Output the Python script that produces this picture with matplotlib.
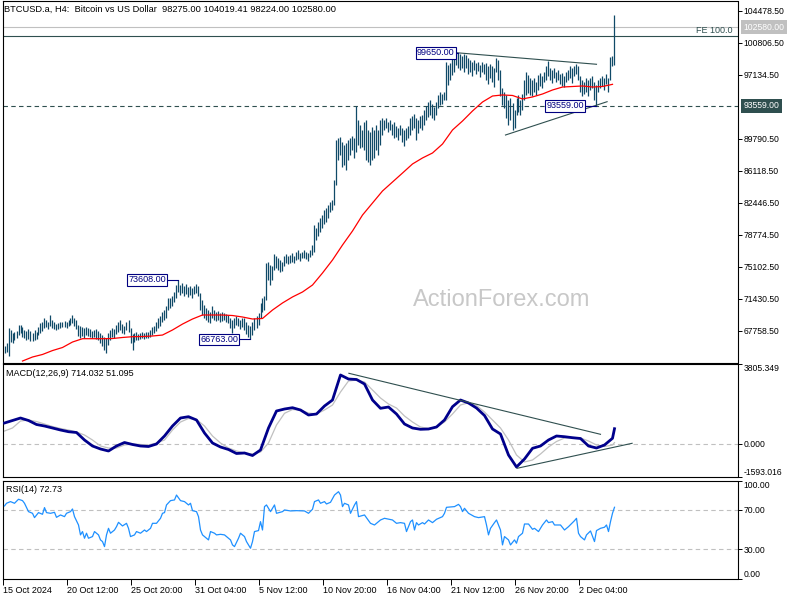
import numpy as np
import matplotlib
matplotlib.use("Agg")
import matplotlib.pyplot as plt
from matplotlib.transforms import blended_transform_factory

plt.rcParams['font.family'] = ['Liberation Sans', 'DejaVu Sans']

# ---------------- data ----------------
title = "BTCUSD.a, H4:  Bitcoin vs US Dollar  98275.00 104019.41 98224.00 102580.00"

# H4 bar highs / lows (thousands USD), bar 0 = 15 Oct 2024 04:00
highs_k = [
 66.0,66.3,68.1,67.8,67.5,67.6,67.7,68.4,68.4,68.2, 67.8,67.7,67.9,67.7,67.5,67.8,67.6,68.2,68.6,68.8,
 69.2,69.0,68.8,69.6,69.0,68.8,68.5,68.6,68.8,68.8, 68.9,68.8,69.0,69.2,69.6,69.2,69.0,68.4,68.3,68.2,
 68.1,68.2,68.1,67.9,67.7,67.8,67.9,67.7,67.5,67.3, 67.0,66.9,67.5,67.8,68.1,67.9,68.4,68.8,69.0,68.5,
 68.3,68.8,69.0,68.1,67.4,67.5,67.6,67.4,67.5,67.6, 67.5,67.6,67.6,67.8,68.2,68.3,68.8,69.2,69.4,69.9,
 70.1,70.6,71.5,71.5,71.7,72.2,73.0,73.608,73.0,73.2, 72.9,73.1,72.8,72.9,72.7,72.9,73.1,72.9,72.1,71.3,
 70.7,70.4,70.1,69.9,70.6,70.1,69.9,70.0,69.8,69.9, 69.8,69.7,69.6,69.2,69.0,69.2,69.4,69.2,69.0,69.2,
 69.2,68.8,68.4,68.3,68.8,69.2,69.4,69.8,70.9,71.5, 71.7,75.5,75.6,75.3,75.2,76.6,76.3,76.1,75.9,75.6,
 76.3,76.6,76.3,76.4,76.7,76.3,76.8,77.0,76.7,76.8, 77.0,76.8,76.7,77.0,77.6,79.9,79.6,80.2,80.7,81.0,
 81.6,81.8,82.2,82.5,82.8,85.1,89.6,89.9,90.0,89.4, 89.1,89.3,89.6,89.9,90.1,89.9,93.5,91.9,91.4,90.8,
 91.7,91.9,90.8,90.6,91.1,90.8,91.4,90.8,91.9,92.2, 91.9,92.2,91.7,91.9,91.5,91.7,91.2,91.0,91.4,91.0,
 90.8,91.0,91.2,92.2,92.4,92.6,92.2,91.9,92.4,92.5, 93.1,93.5,94.0,94.2,93.8,93.4,94.0,94.8,95.1,94.9,
 95.1,98.6,98.2,98.5,99.0,99.4,99.6,99.65,99.5,99.3, 99.5,99.4,99.0,98.8,98.6,98.8,98.5,98.6,98.2,98.6,
 98.4,98.5,98.1,98.4,98.1,97.9,99.0,98.8,97.7,95.6, 95.1,94.8,94.2,94.5,93.9,93.1,94.5,94.8,94.2,94.9,
 96.5,97.4,97.1,96.8,96.5,96.8,96.3,97.1,97.3,97.0, 97.4,98.1,98.7,97.9,97.7,97.9,97.4,97.7,97.2,97.3,
 97.0,97.4,97.7,98.1,97.9,98.1,98.4,98.1,97.0,96.5, 96.3,96.8,96.5,96.8,97.0,96.3,96.0,96.5,96.8,97.0,
 96.8,97.2,96.8,99.2,99.3,104.019]
lows_k = [
 65.2,65.3,64.9,66.5,66.4,66.7,66.9,67.3,67.5,67.0, 66.9,66.7,66.8,66.6,66.6,66.7,66.8,67.3,67.5,67.7,
 68.1,68.2,68.0,68.3,68.1,68.0,67.8,68.0,68.1,68.2, 68.2,68.1,68.3,68.4,68.6,68.3,68.0,67.1,66.9,67.1,
 66.9,67.3,67.1,67.0,66.9,67.0,66.8,66.7,66.3,66.0, 65.5,65.2,66.1,66.7,67.0,66.9,67.4,67.6,67.8,67.5,
 67.4,67.8,67.6,66.3,65.5,66.5,66.7,66.7,66.8,66.9, 66.8,66.9,66.9,67.0,67.3,67.5,67.7,68.1,68.3,68.8,
 69.0,69.2,70.1,70.4,70.6,71.1,71.5,72.2,71.9,72.1, 71.7,72.0,71.6,71.9,71.5,72.0,72.1,71.7,70.1,69.6,
 69.2,69.0,68.8,68.6,69.2,69.0,68.9,69.0,68.8,68.9, 69.0,68.8,68.6,68.1,67.5,68.1,68.4,68.3,67.9,68.2,
 67.8,67.4,67.0,66.763,67.3,67.8,68.1,68.4,69.2,69.9, 70.1,71.3,73.6,73.0,73.6,74.7,74.9,74.7,74.5,74.6,
 75.2,75.5,75.4,75.5,75.6,75.5,75.9,76.0,75.7,76.1, 76.1,76.0,75.7,76.2,76.4,76.8,78.2,78.6,79.1,79.6,
 80.0,80.2,80.7,81.4,81.6,82.2,84.5,87.4,87.9,86.5, 86.8,86.2,87.35,87.9,88.5,87.6,88.3,89.1,88.7,88.8,
 88.5,87.35,87.1,86.8,87.35,87.6,88.5,87.9,89.1,90.2, 90.8,91.0,90.6,90.8,90.2,89.9,90.0,89.6,90.2,89.4,
 88.9,89.6,89.9,90.2,90.8,91.0,89.6,90.4,91.0,90.8, 91.4,91.9,92.3,92.5,92.2,91.9,92.5,93.3,93.7,93.8,
 94.2,94.2,96.0,96.5,97.1,97.4,98.2,97.9,97.7,97.9, 97.4,97.9,97.2,97.4,97.0,97.7,97.2,97.6,96.9,97.4,
 97.2,96.5,96.1,96.8,96.3,95.7,97.4,96.5,94.7,93.7, 93.3,92.2,91.4,91.9,90.8,91.0,92.5,92.9,92.5,93.1,
 94.2,94.8,95.0,94.8,94.7,95.1,94.8,95.4,95.8,95.6, 96.3,96.5,97.0,96.5,96.2,96.8,96.3,96.5,96.1,95.8,
 95.7,96.3,96.5,96.8,96.2,97.0,97.2,96.5,95.1,94.7, 94.9,95.1,94.7,95.4,95.6,94.2,93.559,95.1,95.6,95.8,
 95.4,96.1,95.1,96.5,98.1,98.224]

# moving average (thousands USD), every 5 bars from bar 9
ma_idx = list(range(9, 305, 5))
ma_k = [64.28,64.74,65.03,65.48,65.83,66.46,66.84,66.84,66.84,66.86,
        66.98,67.07,67.09,67.15,67.26,67.84,68.52,69.10,69.56,69.56,
        69.56,69.50,69.33,69.10,69.16,70.13,70.94,71.63,72.20,73.00,
        74.38,75.87,77.59,79.20,81.03,82.41,83.79,84.82,85.85,86.89,
        87.58,88.15,89.18,90.79,91.82,92.97,94.00,94.69,94.81,94.75,
        94.35,94.58,94.92,95.38,95.72,95.78,95.84,95.72,95.78,96.03]

# MACD(12,26,9): main & signal, every 4 bars + last bar
macd_idx = list(range(0, 305, 4)) + [305]
macd_main = [987,1106,1225,1106,915,843,748,652,571,533,
             174,-112,-255,-351,-112,55,-40,-112,-136,-17,
             366,843,1225,1288,1130,509,31,-160,-279,-470,
             -446,-566,-303,748,1560,1655,1717,1608,1369,1417,
             1799,2085,3280,3088,3065,2850,2085,1689,1751,1416,
             939,748,686,700,795,1130,1765,2085,1942,1703,
             1345,700,461,-542,-1115,-733,-222,-112,174,366,
             332,284,246,-112,-208,-64,256,714.032]
macd_signal = [604,748,1082,1130,1058,939,819,724,652,557,
               413,174,-112,-208,-208,-64,-17,-40,-64,31,
               174,652,1034,1202,1154,843,366,31,-208,-351,
               -446,-494,-399,31,891,1450,1631,1608,1464,1417,
               1608,1846,2467,2993,3041,2945,2563,2181,1894,1703,
               1321,1034,795,724,795,1034,1417,1846,1956,1823,
               1512,1130,748,174,-542,-876,-781,-494,-160,103,
               270,294,270,127,-64,-136,-64,51.095]

# RSI(14)
rsi_idx = [0,1,3,5,7,9,10,12,14,15,17,19,20,21,23,25,26,28,30,31,33,34,35,37,38,39,40,41,42,44,
           45,47,48,49,50,51,52,53,55,56,57,59,61,62,63,65,66,68,70,71,73,74,76,78,79,80,81,83,85,86,
           88,90,92,93,94,96,97,98,99,100,102,103,105,106,108,110,113,114,115,117,118,120,121,123,124,125,127,128,129,130,
           131,133,135,136,139,140,143,146,150,152,154,155,157,158,160,161,163,165,167,168,169,170,172,173,175,176,177,180,183,185,
           188,190,194,196,198,200,201,203,204,205,206,207,209,210,212,214,216,219,220,221,225,227,228,229,230,232,235,237,240,241,
           242,243,245,246,248,249,250,252,253,255,256,257,259,260,262,264,265,267,269,271,272,274,275,278,280,282,285,286,287,288,
           290,291,293,295,296,298,300,301,302,303,304,305]
rsi_val = [74.1,76.8,78.5,76.8,80.9,79.5,76.8,68.3,66.6,62.2,67.3,65.6,72.4,67.3,66.6,67.6,62.5,64.9,63.2,66.6,68.3,71.0,63.2,54.7,44.6,48.0,41.2,46.3,41.2,42.9,
           48.0,44.6,39.5,37.8,32.7,44.6,51.3,46.3,49.6,53.0,57.4,53.7,56.4,51.3,42.9,44.6,48.0,46.3,49.6,48.0,51.3,56.4,56.4,61.5,66.6,67.3,75.1,79.5,80.2,85.2,
           79.5,78.5,75.1,76.8,69.3,68.3,63.2,49.6,44.6,42.9,39.5,48.0,46.3,44.6,45.2,44.6,39.5,34.4,32.7,41.2,46.3,42.9,37.8,31.0,37.8,48.0,49.0,58.1,49.6,73.4,
           75.1,68.3,75.1,66.6,68.3,70.0,69.0,69.3,69.0,66.6,70.7,78.5,80.2,76.8,78.5,76.1,77.8,85.2,88.6,85.2,73.4,76.8,75.1,66.6,75.1,78.5,63.2,64.9,56.4,54.7,
           59.8,61.5,59.8,56.4,57.1,56.4,48.0,58.1,59.8,49.6,57.1,54.7,57.1,55.7,59.8,57.1,60.5,63.2,66.6,72.7,73.4,75.7,73.4,68.3,71.7,66.6,63.2,62.2,63.2,54.7,
           44.6,51.3,57.1,59.8,49.6,34.4,42.9,39.5,34.4,39.5,36.1,42.9,46.3,55.7,55.7,50.3,51.3,48.0,54.7,59.8,57.1,58.1,54.7,54.7,49.6,53.0,59.1,61.5,46.3,42.9,
           39.5,44.6,48.6,37.8,49.0,51.3,52.4,54.7,48.0,58.1,66.6,72.73]

price_ticks = [104478.5, 100806.5, 97134.5, 89790.5, 86118.5, 82446.5, 78774.5, 75102.5, 71430.5, 67758.5]
support_level = 93559.0
current_price = 102580.0
fe_level = 101570.0
date_labels = ["15 Oct 2024", "20 Oct 12:00", "25 Oct 20:00", "31 Oct 04:00", "5 Nov 12:00",
               "10 Nov 20:00", "16 Nov 04:00", "21 Nov 12:00", "26 Nov 20:00", "2 Dec 04:00"]
date_tick_idx = [-0.6, 31.4, 63.4, 95.4, 127.4, 159.4, 191.4, 223.4, 255.4, 287.4]

# swing-point labels: (label bar, price)
swing_points = [(227, 99650.0), (296, 93559.0), (87, 73608.0), (123, 66763.0)]
# trendlines (bar index pairs, value pairs)
price_tl_upper = ([226.3, 296.0], [99650, 98330])
price_tl_lower = ([250.5, 301.3], [90215, 94036])
macd_tl_upper = ([172.2, 298.0], [3361, 447])
macd_tl_lower = ([256.3, 313.8], [-1177, 17])

# ---------------- figure ----------------
W, H = 800, 600
def rect(x0, y0, x1, y1):
    return [x0 / W, 1 - y1 / H, (x1 - x0) / W, (y1 - y0) / H]

fig = plt.figure(figsize=(8, 6), dpi=100)
fig.patch.set_facecolor('white')
ax1 = fig.add_axes(rect(3, 0.5, 737.5, 362.5))
ax2 = fig.add_axes(rect(3, 364, 737.5, 477))
ax3 = fig.add_axes(rect(3, 480.5, 737.5, 578.7))

BAR = '#104a68'
SLATE = '#2f4f4f'
NAVY = '#000080'
FS_AX = 6.2
FS_TX = 6.5

x = np.arange(len(highs_k))
highs = np.array(highs_k) * 1000
lows = np.array(lows_k) * 1000

for ax in (ax1, ax2, ax3):
    ax.set_xlim(-0.75, 366.5)
    for s in ax.spines.values():
        s.set_linewidth(0.8)
        s.set_color('black')
    ax.yaxis.tick_right()
    ax.tick_params(axis='y', direction='out', length=3, width=0.7, pad=1.5,
                   labelsize=FS_AX, right=True, left=False, labelright=True, labelleft=False)

# ---- main price panel ----
p_top = 105706 - 114.75 * 0.5
p_bot = 105706 - 114.75 * 362.5
ax1.set_ylim(p_bot, p_top)
ax1.set_xticks([])
ax1.set_yticks(price_ticks)
ax1.set_yticklabels([f"{v:.2f}" for v in price_ticks])

ax1.text(0.679, 0.173, 'ActionForex.com', transform=ax1.transAxes, ha='center', va='center',
         fontsize=17, color='#c8c8c8', zorder=0)

ax1.vlines(x, lows, highs, color=BAR, lw=0.9, zorder=3)
ax1.plot(ma_idx, np.array(ma_k) * 1000, color='red', lw=0.9, zorder=4)

ax1.axhline(support_level, color=SLATE, lw=0.8, ls=(0, (4, 3)), zorder=2)
ax1.axhline(current_price, color='#c0c0c0', lw=0.8, zorder=2)
ax1.axhline(fe_level, color=SLATE, lw=0.8, zorder=2)

ax1.plot(*price_tl_upper, color=SLATE, lw=0.8, zorder=5)
ax1.plot(*price_tl_lower, color=SLATE, lw=0.8, zorder=5)

tr1 = blended_transform_factory(ax1.transAxes, ax1.transData)
ax1.text((733 - 3) / 734.5, fe_level + 150, 'FE 100.0', transform=tr1, ha='right', va='bottom',
         fontsize=FS_TX, color=SLATE)
ax1.text(1 + 6 / 734.5, support_level, f"{support_level:.2f}", transform=tr1, ha='left', va='center',
         fontsize=FS_AX, color='white', clip_on=False,
         bbox=dict(boxstyle='square,pad=0.3', fc=SLATE, ec='none'))
ax1.text(1 + 6 / 734.5, current_price, f"{current_price:.2f}", transform=tr1, ha='left', va='center',
         fontsize=FS_AX, color='white', clip_on=False,
         bbox=dict(boxstyle='square,pad=0.3', fc='#c0c0c0', ec='none'))

box_offsets = [1.3, 5.7, 5.6, 5.6]
for (bi, val), off in zip(swing_points, box_offsets):
    xr = bi - off
    ax1.plot([xr, bi], [val, val], color=NAVY, lw=0.8, zorder=6)
    ax1.text(xr - 0.6, val, f"{val:.2f}", ha='right', va='center', fontsize=FS_TX, color=NAVY, zorder=7,
             bbox=dict(boxstyle='square,pad=0.15', fc='white', ec=NAVY, lw=0.8))

# ---- MACD panel ----
ax2.set_ylim(-1593.016, 3805.349)
ax2.set_xticks([])
ax2.set_yticks([-1593.016, 0.0, 3805.349])
ax2.set_yticklabels(['-1593.016', '0.000', '3805.349'])
labs = ax2.get_yticklabels()
labs[0].set_va('bottom')
labs[2].set_va('top')
ax2.axhline(0, color='#c0c0c0', lw=0.8, ls=(0, (4, 3)), zorder=1)
ax2.plot(macd_idx, macd_signal, color='#c0c0c0', lw=0.9, zorder=2)
ax2.plot(macd_idx, macd_main, color='#00008b', lw=2.0, zorder=3, solid_joinstyle='round')
ax2.plot(*macd_tl_upper, color=SLATE, lw=0.8, zorder=4)
ax2.plot(*macd_tl_lower, color=SLATE, lw=0.8, zorder=4)

# ---- RSI panel ----
ax3.set_ylim(0, 100)
ax3.set_yticks([0, 30, 70, 100])
ax3.set_yticklabels(['0.00', '30.00', '70.00', '100.00'])
labs = ax3.get_yticklabels()
labs[0].set_va('bottom')
labs[3].set_va('top')
for lv in (30, 70):
    ax3.axhline(lv, color='#c0c0c0', lw=0.8, ls=(0, (4, 3)), zorder=1)
ax3.plot(rsi_idx, rsi_val, color='#1e90ff', lw=0.9, zorder=3)
ax3.set_xticks(date_tick_idx)
ax3.set_xticklabels(date_labels)
ax3.tick_params(axis='x', direction='out', length=4, width=0.7, pad=1, labelsize=FS_TX)
for t in ax3.get_xticklabels():
    t.set_ha('left')

# ---- header texts ----
fig.text(4 / W, 1 - 9 / H, title, fontsize=FS_TX + 0.2, va='center', ha='left')
fig.text(6 / W, 1 - 374 / H, 'MACD(12,26,9) 714.032 51.095', fontsize=FS_TX, va='center', ha='left')
fig.text(6 / W, 1 - 489 / H, 'RSI(14) 72.73', fontsize=FS_TX, va='center', ha='left')

fig.savefig('out.png', dpi=100, facecolor='white')
